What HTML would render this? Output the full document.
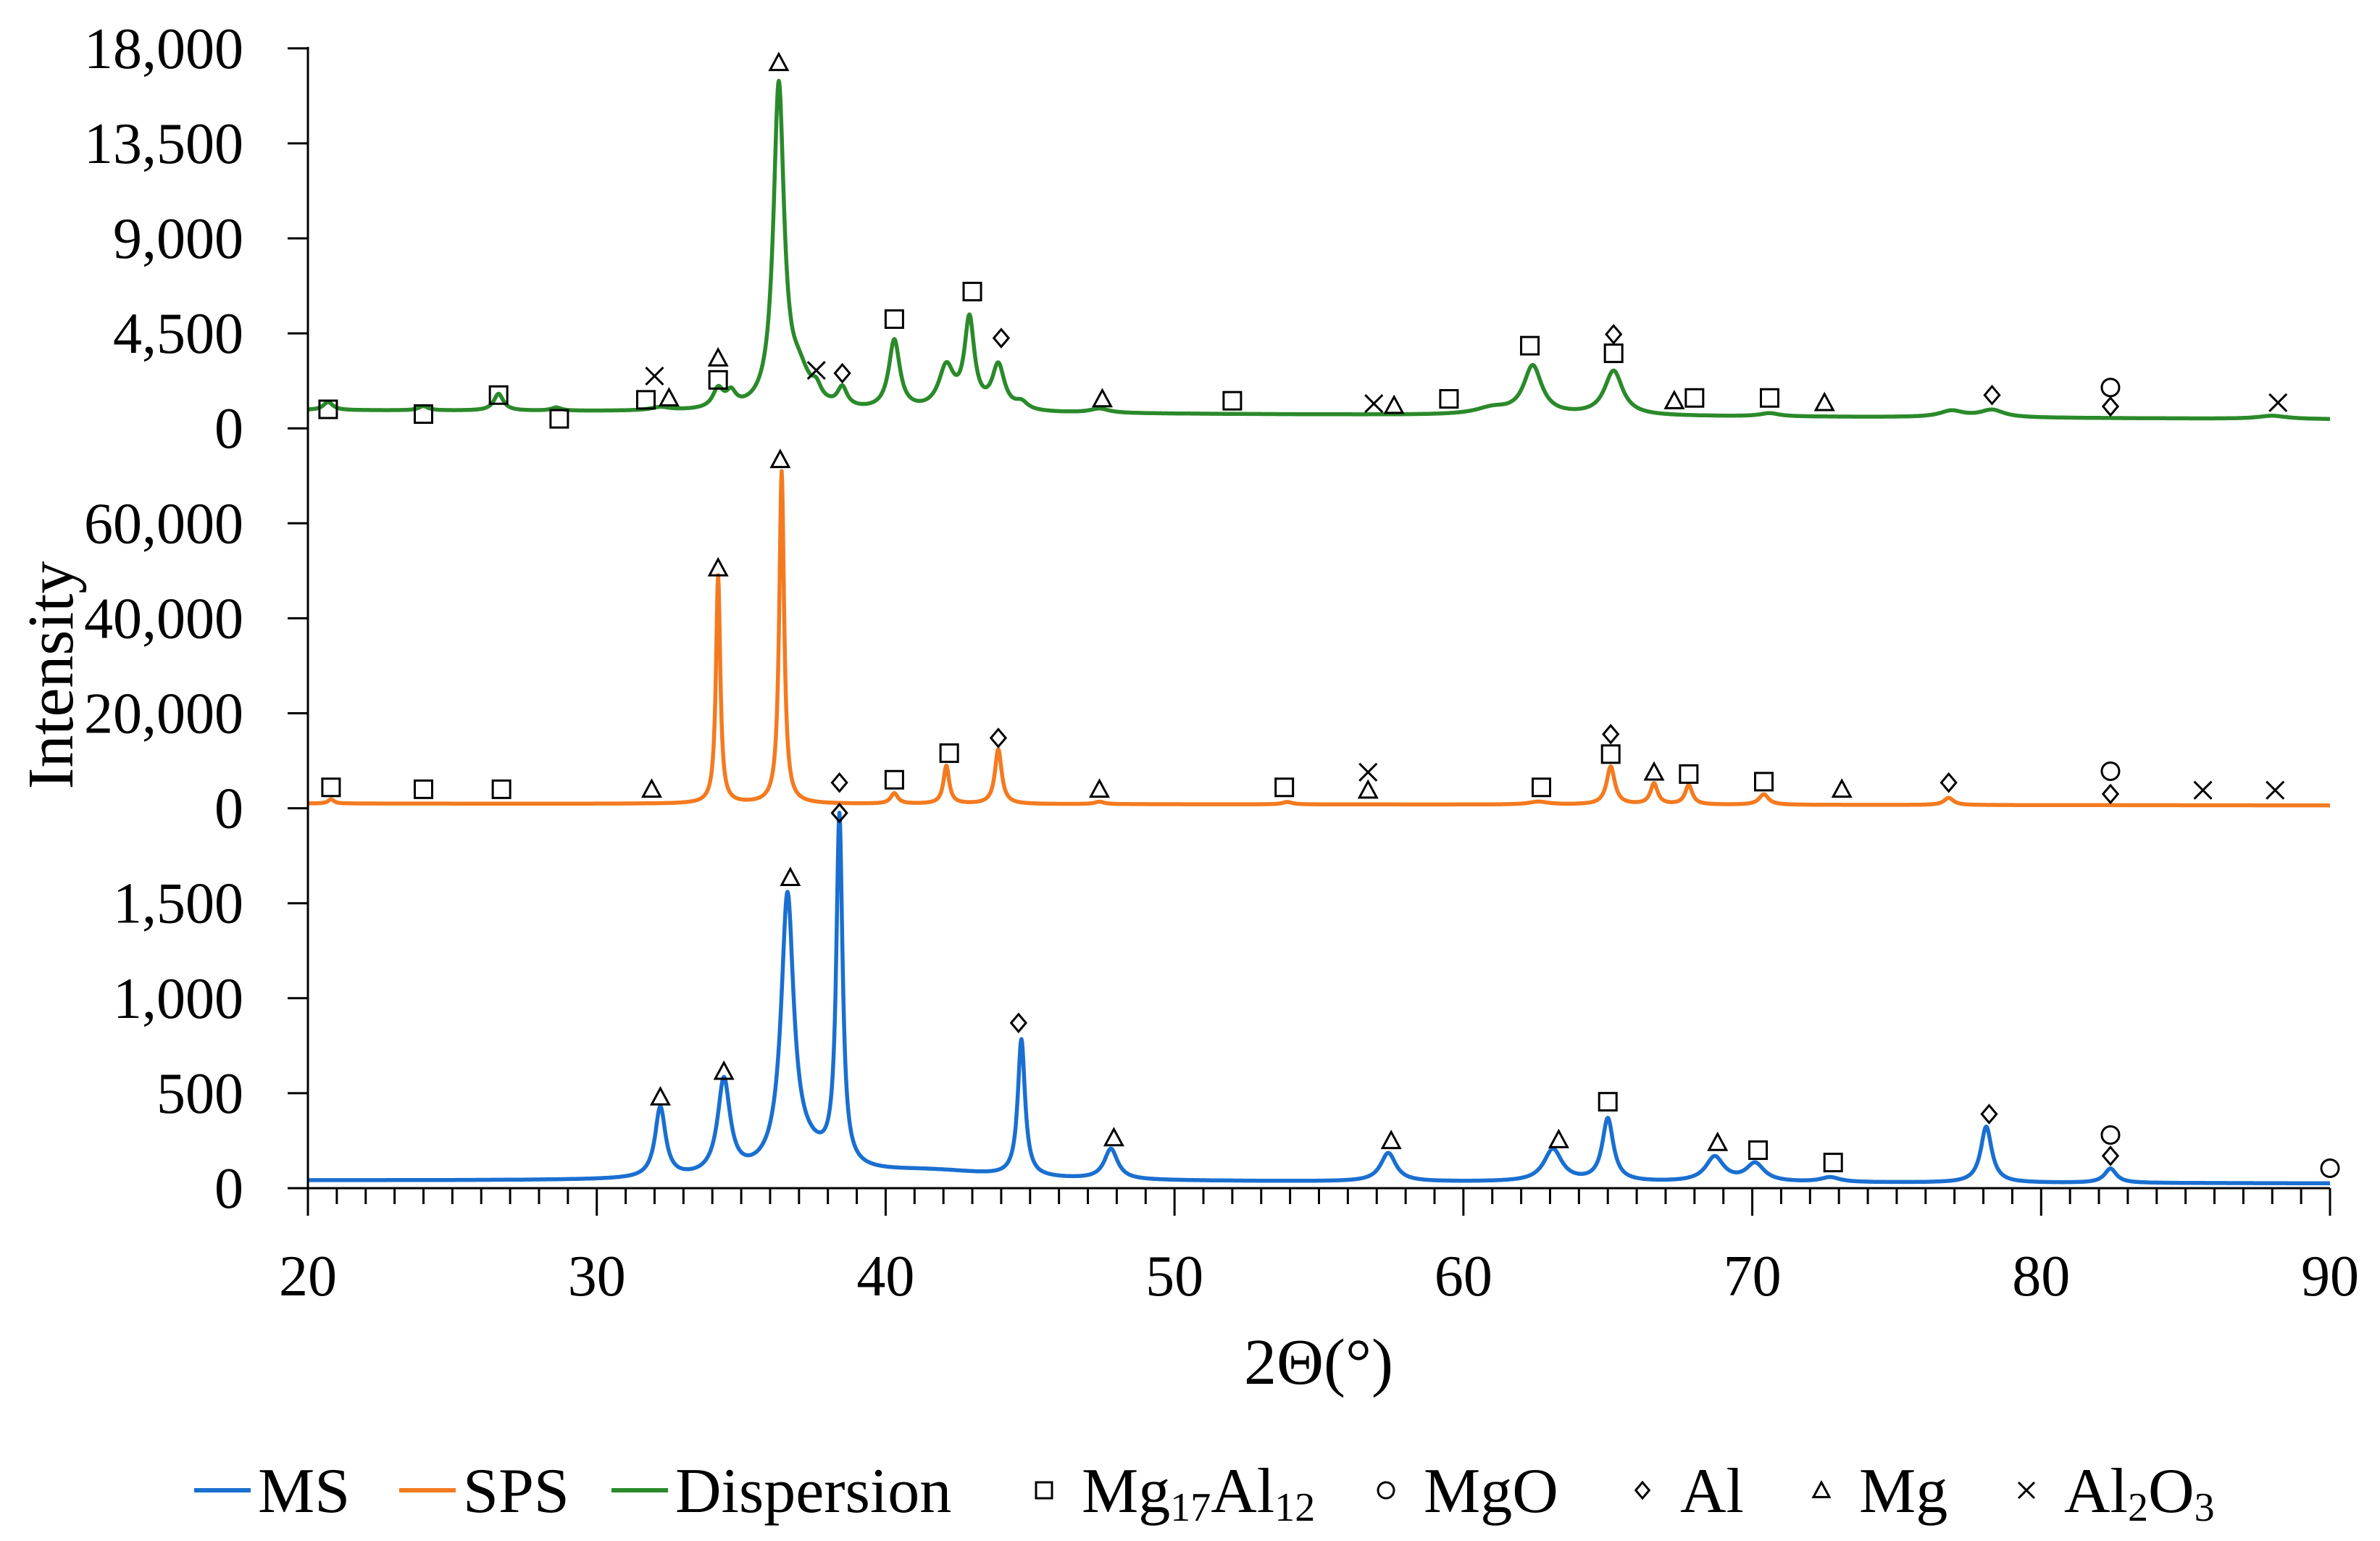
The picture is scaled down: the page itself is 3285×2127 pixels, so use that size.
<!DOCTYPE html>
<html><head><meta charset="utf-8"><style>
html,body{margin:0;padding:0;background:#fff}
svg text{font-family:"Liberation Serif",serif;fill:#000}
</style></head><body>
<svg id="chart" width="3285" height="2122" viewBox="0 0 3285 2122" xmlns="http://www.w3.org/2000/svg">
<g id="grid"></g><g id="series"></g><g id="markers"></g><g id="axes"></g>
<text x="1820" y="1910" font-size="90" text-anchor="middle">2Θ(°)</text>
<text transform="translate(100,932) rotate(-90)" font-size="90" text-anchor="middle">Intensity</text>
<g id="legend"></g>
</svg>
<script>
// ---- data ----
const xTicks = [20,30,40,50,60,70,80,90];
const yTickLabels = ["0","500","1,000","1,500","0","20,000","40,000","60,000","0","4,500","9,000","13,500","18,000"];
// peaks: [center, height, halfwidth]
const msBaseline = [40, 25];
const msPeaks = [[32.2,370,0.22],[34.4,500,0.26],[36.6,1400,0.26],[37.2,120,1.1],[38.4,1830,0.13],[41.5,50,3],[44.7,720,0.15],[47.8,160,0.28],[57.4,150,0.32],[63.1,170,0.38],[65.0,330,0.23],[68.7,130,0.38],[70.1,95,0.38],[72.7,25,0.4],[78.1,295,0.23],[82.4,75,0.25]];
const spsBaseline = [1000, 600];
const spsPeaks = [[20.8,900,0.12],[34.2,48000,0.09],[36.4,70000,0.1],[40.3,2200,0.15],[42.1,8000,0.12],[43.9,11500,0.14],[47.4,500,0.2],[53.9,500,0.2],[62.6,600,0.4],[65.1,8000,0.17],[66.6,4400,0.15],[67.8,4100,0.15],[70.4,2200,0.2],[76.8,1500,0.2]];
const dispBaseline = [860, 430];
const dispPeaks = [[20.7,380,0.2],[24.0,200,0.2],[26.6,800,0.2],[28.6,150,0.2],[32.2,150,0.4],[34.2,900,0.22],[34.65,650,0.2],[36.3,15200,0.22],[37.0,1500,0.45],[37.6,600,0.2],[38.5,900,0.2],[40.3,3300,0.23],[42.1,2000,0.32],[42.9,4200,0.21],[43.9,2100,0.26],[44.7,350,0.26],[47.4,200,0.4],[61.0,300,0.7],[62.4,2300,0.38],[65.2,2100,0.38],[70.6,150,0.4],[76.9,300,0.5],[78.3,350,0.5],[88,150,0.6]];
// markers: [x (deg), axis position (0-12 tick units), symbol]
const markerX = [20.7,24.0,26.6,28.7,31.7,32.0,32.5,34.2,34.2,36.3,37.6,38.5,40.3,43.0,44.0,47.5,52.0,56.9,57.6,59.5,62.3,65.2,65.2,67.3,68.0,70.6,72.5,78.3,82.4,82.4,88.2,
 36.35,34.2,20.8,24.0,26.7,31.9,38.4,40.3,42.2,43.9,47.4,53.8,56.7,56.7,62.7,65.1,65.1,66.6,67.8,70.4,73.1,76.8,82.4,82.4,85.6,88.1,
 36.7,38.4,44.6,34.4,32.2,47.9,57.5,63.3,65.0,68.8,70.2,72.8,78.2,82.4,82.4,90.0];
const markerPos = [8.2,8.15,8.35,8.1,8.3,8.55,8.32,8.74,8.51,11.85,8.61,8.58,9.15,9.44,8.95,8.31,8.29,8.26,8.24,8.31,8.87,8.99,8.79,8.29,8.32,8.32,8.27,8.35,8.43,8.23,8.27,
 7.67,6.53,4.22,4.2,4.2,4.2,4.27,4.3,4.58,4.74,4.2,4.22,4.38,4.19,4.22,4.78,4.57,4.38,4.36,4.28,4.2,4.27,4.39,4.15,4.19,4.19,
 3.27,3.95,1.74,1.23,0.96,0.53,0.5,0.51,0.91,0.48,0.4,0.27,0.78,0.56,0.34,0.21];
const markerSym = ["s","s","s","s","s","x","t","t","s","t","x","d","s","s","d","t","s","x","t","s","s","d","s","t","s","s","t","d","c","d","x",
 "t","t","s","s","s","t","d","s","s","d","t","s","x","t","s","d","s","t","s","s","t","d","c","d","x","x",
 "t","d","d","t","t","t","t","t","s","t","s","s","d","c","d","c"];
// ---- scales ----
const X0=425, X1=3216, Y0=1640, STEP=131.1;
const sx = v => X0 + (v-20)/70*(X1-X0);
const su = u => Y0 - u*STEP;
const NS="http://www.w3.org/2000/svg";
function mk(tag, attrs, parent){const e=document.createElementNS(NS,tag);for(const k in attrs)e.setAttribute(k,attrs[k]);parent.appendChild(e);return e;}
const G=id=>document.getElementById(id);
// ---- series ----
function curve(base, peaks, zeroU, unit){
  let d="";
  for(let x=20;x<=90.0001;x+=0.02){
    let v=base[0]+(base[1]-base[0])*(x-20)/70;
    for(const p of peaks){const t=(x-p[0])/p[2];v+=p[1]/(1+t*t);}
    const y=su(zeroU + v/unit);
    d+=(d?"L":"M")+sx(x).toFixed(1)+" "+y.toFixed(1);
  }
  return d;
}
const s1=mk("path",{d:curve(msBaseline,msPeaks,0,500),fill:"none",stroke:"#1a6fd0","stroke-width":5.5,"stroke-linejoin":"round"},G("series"));


const s2=mk("path",{d:curve(spsBaseline,spsPeaks,4,20000),fill:"none",stroke:"#f47a20","stroke-width":5.5,"stroke-linejoin":"round"},G("series"));


const s3=mk("path",{d:curve(dispBaseline,dispPeaks,8,4500),fill:"none",stroke:"#2a8a2a","stroke-width":5.5,"stroke-linejoin":"round"},G("series"));


// ---- marker symbols ----
function sym(type,cx,cy,parent,r){
  r=r||12;const st={fill:"none",stroke:"#000","stroke-width":3};let e;
  if(type==="s") e=mk("rect",Object.assign({x:cx-r,y:cy-r,width:2*r,height:2*r},st),parent);
  else if(type==="c") e=mk("circle",Object.assign({cx:cx,cy:cy,r:r},st),parent);
  else if(type==="d") e=mk("path",Object.assign({d:`M${cx} ${cy-r} L${cx+r*0.85} ${cy} L${cx} ${cy+r} L${cx-r*0.85} ${cy}Z`},st),parent);
  else if(type==="t") e=mk("path",Object.assign({d:`M${cx} ${cy-r} L${cx+r} ${cy+r*0.85} L${cx-r} ${cy+r*0.85}Z`},st),parent);
  else e=mk("path",Object.assign({d:`M${cx-r} ${cy-r} L${cx+r} ${cy+r} M${cx+r} ${cy-r} L${cx-r} ${cy+r}`},st),parent);
  return e;
}
for(let i=0;i<markerX.length;i++){
  const e=sym(markerSym[i],sx(markerX[i]),su(markerPos[i]),G("markers"));
  
  
}
// ---- axes ----
const ax=G("axes");
const yl=mk("line",{x1:X0,y1:su(12)-2,x2:X0,y2:Y0+38,stroke:"#000","stroke-width":3},ax);


const xl=mk("line",{x1:X0-28,y1:Y0,x2:X1,y2:Y0,stroke:"#000","stroke-width":3},ax);


for(let i=0;i<yTickLabels.length;i++){
  const y=su(i);
  const tk=mk("line",{x1:X0-28,y1:y,x2:X0,y2:y,stroke:"#000","stroke-width":3},ax);
  
  
  const t=mk("text",{x:336,y:y+27,"font-size":80,"text-anchor":"end"},ax);
  t.textContent=yTickLabels[i];
  
  
}
for(let v=20;v<=90;v++){
  const maj=(v%10===0);
  const tk=mk("line",{x1:sx(v),y1:Y0,x2:sx(v),y2:Y0+(maj?38:22),stroke:"#000","stroke-width":3},ax);
  
  
}
for(const v of xTicks){
  const t=mk("text",{x:sx(v),y:1788,"font-size":80,"text-anchor":"middle"},ax);
  t.textContent=String(v);
  
  
}
// ---- legend ----
const lg=G("legend"), LY=2057;
const lines=[[268,"#1a6fd0","MS","legend-ms"],[551,"#f47a20","SPS","legend-sps"],[844,"#2a8a2a","Dispersion","legend-dispersion"]];
for(const L of lines){
  const g=mk("g",{},lg);
  
  
  mk("line",{x1:L[0],y1:LY,x2:L[0]+78,y2:LY,stroke:L[1],"stroke-width":6},g);
  const t=mk("text",{x:L[0]+88,y:LY+30,"font-size":88},g);t.textContent=L[2];
}
const syms=[[1441,"s","Mg","17","Al","12","","legend-mg17al12"],[1913,"c","MgO","","","","","legend-mgo"],[2267,"d","Al","","","","","legend-al"],[2514,"t","Mg","","","","","legend-mg"],[2797,"x","Al","2","O","3","","legend-al2o3"]];
for(const S of syms){
  const g=mk("g",{},lg);
  
  
  sym(S[1],S[0],LY,g,11);
  const t=mk("text",{x:S[0]+52,y:LY+30,"font-size":88},g);
  const a=mk("tspan",{},t);a.textContent=S[2];
  if(S[3]){const b=mk("tspan",{"font-size":56,dy:12},t);b.textContent=S[3];
    const c=mk("tspan",{"font-size":88,dy:-12},t);c.textContent=S[4];
    const d=mk("tspan",{"font-size":56,dy:12},t);d.textContent=S[5];}
}
</script>
</body></html>
